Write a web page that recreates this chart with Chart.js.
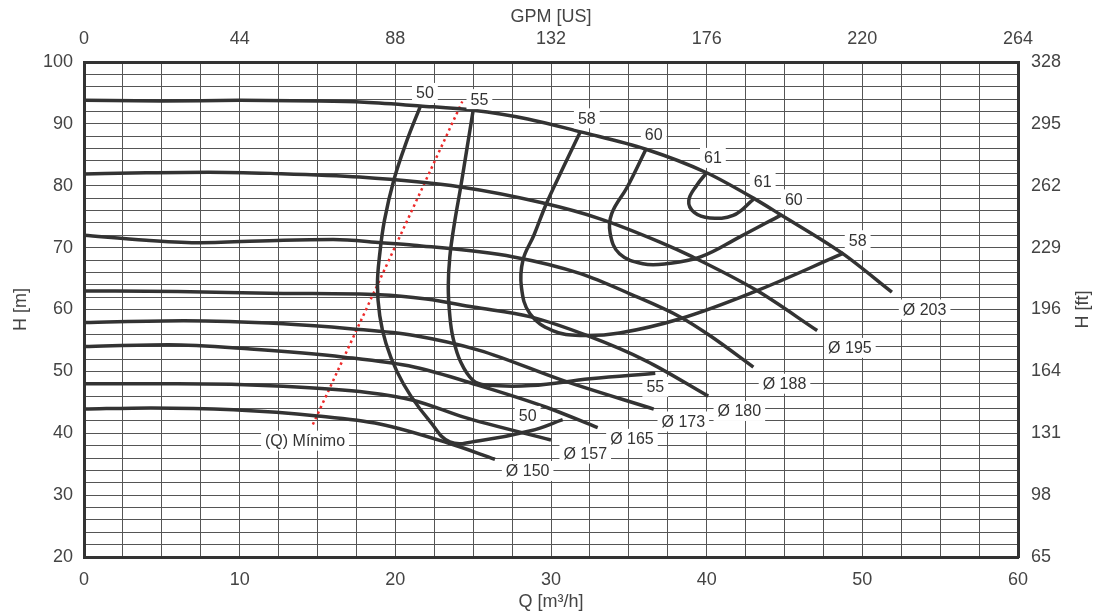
<!DOCTYPE html>
<html>
<head>
<meta charset="utf-8">
<title>Curvas de bomba</title>
<script src="https://cdn.jsdelivr.net/npm/chart.js@4.4.1/dist/chart.umd.min.js"></script>
<style>
    html, body { margin: 0; padding: 0; background: #ffffff; }
    #wrap { width: 1100px; height: 616px; }
</style>
</head>
<body>
<div id="wrap"><canvas id="pumpChart" width="1100" height="616"></canvas></div>
<script>
// tick labels
const qTicks = [0, 10, 20, 30, 40, 50, 60];
const hTicks = [20, 30, 40, 50, 60, 70, 80, 90, 100];
const gpmTicks = [0, 44, 88, 132, 176, 220, 264];
const ftTicks = [65, 98, 131, 164, 196, 229, 262, 295, 328];

// impeller diameter curves, [Q m3/h, H m]
const dia203 = [[0, 93.8], [5, 93.7], [10, 93.8], [15, 93.7], [18, 93.5], [21.6, 92.9], [25, 92.2], [28.5, 90.8], [31.9, 88.7], [36.1, 85.9], [40, 82.1], [43, 78], [44.7, 75.4], [48.7, 69.1], [51.9, 62.8]];
const dia195 = [[0, 81.9], [4, 82.1], [8, 82.2], [12, 82.0], [17.7, 81.4], [24.2, 79.8], [29.5, 77.2], [33.1, 74.7], [37, 70.9], [39.1, 68.5], [43.2, 63.1], [47.1, 56.6]];
const dia188 = [[0, 72.0], [4, 71.2], [7.5, 70.8], [12.8, 71.2], [16, 71.3], [19.1, 70.8], [21.2, 70.4], [27.6, 68.5], [31.9, 65.8], [35.1, 62.5], [38.3, 58.8], [40.2, 55.8], [43.0, 50.7]];
const dia180 = [[0, 63.0], [6, 62.9], [12.8, 62.6], [19, 62.4], [22, 61.7], [25, 60.4], [28.7, 58.8], [32.3, 55.8], [36.1, 51.7], [40.1, 46.0]];
const dia173 = [[0, 57.9], [6.4, 58.2], [12.8, 57.7], [17.1, 56.9], [21.2, 55.8], [25.4, 53.4], [30.8, 48.5], [36.6, 43.9]];
const dia165 = [[0, 54.0], [5.4, 54.3], [10.7, 53.6], [16.7, 52.3], [21.2, 50.7], [25.4, 47.7], [29.7, 44.2], [33.0, 40.9]];
const dia157 = [[0, 48.0], [6, 48.0], [12.8, 47.6], [18.2, 46.6], [21.2, 45.3], [24.4, 42.6], [30.0, 38.9]];
const dia150 = [[0, 43.9], [4.3, 44.1], [9.6, 43.8], [15, 42.8], [19, 41.5], [23.3, 38.5], [26.4, 35.8]];

// efficiency curves (%)
const eff50 = [[21.6, 92.8], [20.7, 87], [19.9, 80.9], [19.3, 74.4], [19.0, 69], [18.85, 64], [19.0, 59], [19.4, 54.5], [20.1, 50], [21.0, 46], [22.2, 42], [23.5, 38.6], [25.4, 38.8], [28.7, 40.4], [30.75, 42.2]];
const eff55 = [[25.0, 92.2], [24.6, 86], [24.2, 79.8], [23.8, 74], [23.5, 68.5], [23.4, 63.6], [23.5, 59], [23.7, 55.5], [24.2, 51.5], [25.0, 48.5], [25.8, 47.8], [28.7, 47.7], [32.5, 48.8], [36.7, 49.7]];
const eff58 = [[31.9, 88.8], [30.7, 82.5], [29.7, 77.1], [28.9, 72], [28.2, 68], [28.1, 63.6], [28.65, 59.3], [30.1, 56.6], [31.9, 55.8], [34.4, 56.2], [38.3, 58.5], [43.0, 62.8], [48.8, 69.1]];
const eff60 = [[36.1, 85.9], [34.9, 79.8], [33.9, 75.5], [33.8, 72.3], [34.4, 69.0], [35.9, 67.4], [37.4, 67.4], [39.6, 68.5], [42.1, 71.7], [44.8, 75.3]];
const eff61 = [[40.0, 82.1], [39.4, 80.2], [38.85, 77.6], [39.2, 75.7], [40.2, 74.8], [41.7, 75.2], [43.0, 77.8]];

// minimum flow line
const minFlow = [[14.7, 41.4], [24.3, 93.6]];

// curve labels: text, Q, H
const curveLabels = [
    ["50", 21.9, 95.0], ["55", 25.4, 94.0], ["58", 32.3, 90.9], ["60", 36.6, 88.3],
    ["61", 40.4, 84.5], ["61", 43.6, 80.7], ["60", 45.6, 77.8], ["58", 49.7, 71.2],
    ["Ø 203", 54.0, 60.0], ["Ø 195", 49.2, 53.8], ["Ø 188", 45.0, 48.0], ["Ø 180", 42.1, 43.6],
    ["55", 36.7, 47.5], ["Ø 173", 38.5, 41.9], ["Ø 165", 35.2, 39.1], ["50", 28.5, 42.8],
    ["Ø 157", 32.2, 36.7], ["Ø 150", 28.5, 33.9], ["(Q) Mínimo", 14.2, 38.8]
];

const FONT = '"Liberation Sans", Arial, sans-serif';
const INK = "#333333";

function toPoints(arr) {
    return arr.map(function (p) { return { x: p[0], y: p[1] }; });
}

// diameter curves are monotone in Q, efficiency curves loop back
function diaCurve(arr) {
    return {
        data: toPoints(arr),
        borderColor: INK,
        borderWidth: 3.5,
        pointRadius: 0,
        cubicInterpolationMode: "monotone",
        fill: false
    };
}

function effCurve(arr) {
    return {
        data: toPoints(arr),
        borderColor: INK,
        borderWidth: 3.5,
        pointRadius: 0,
        tension: 0.4,
        fill: false
    };
}

const labelPlugin = {
    id: "curveLabels",
    afterDatasetsDraw: function (chart) {
        const ctx = chart.ctx;
        const xs = chart.scales.x;
        const ys = chart.scales.y;
        ctx.save();
        ctx.font = "16px " + FONT;
        ctx.textAlign = "center";
        ctx.textBaseline = "middle";
        curveLabels.forEach(function (l) {
            const px = xs.getPixelForValue(l[1]);
            const py = ys.getPixelForValue(l[2]);
            const w = ctx.measureText(l[0]).width + 8;
            ctx.fillStyle = "#ffffff";
            ctx.fillRect(px - w / 2, py - 10, w, 20);
            ctx.fillStyle = INK;
            ctx.fillText(l[0], px, py + 1);
        });
        ctx.restore();
    },
    afterDraw: function (chart) {
        // right axis title reads bottom-to-top like the left one
        const ctx = chart.ctx;
        const area = chart.chartArea;
        ctx.save();
        ctx.font = "18px " + FONT;
        ctx.fillStyle = "#444444";
        ctx.textAlign = "center";
        ctx.textBaseline = "middle";
        ctx.translate(1083, (area.top + area.bottom) / 2);
        ctx.rotate(-Math.PI / 2);
        ctx.fillText("H [ft]", 0, 0);
        ctx.restore();
    }
};

const gridColor = "#555555";
const borderStyle = { display: true, width: 3, color: INK };
const tickFont = { family: FONT, size: 18 };

document.addEventListener("DOMContentLoaded", function () {
    const canvas = document.getElementById("pumpChart");
    if (!canvas || !window.Chart) {
        return;
    }
    const minDs = {
        data: toPoints(minFlow),
        borderColor: "#ee2a2a",
        borderWidth: 2.5,
        borderDash: [2.5, 3.5],
        pointRadius: 0,
        tension: 0,
        fill: false
    };

    new Chart(canvas.getContext("2d"), {
        type: "line",
        data: {
            datasets: [
                diaCurve(dia203), diaCurve(dia195), diaCurve(dia188), diaCurve(dia180),
                diaCurve(dia173), diaCurve(dia165), diaCurve(dia157), diaCurve(dia150),
                effCurve(eff50), effCurve(eff55), effCurve(eff58), effCurve(eff60), effCurve(eff61),
                minDs
            ]
        },
        options: {
            responsive: false,
            animation: false,
            layout: { padding: 0 },
            plugins: {
                legend: { display: false },
                tooltip: { enabled: false }
            },
            scales: {
                x: {
                    type: "linear",
                    position: "bottom",
                    min: 0,
                    max: 60,
                    afterFit: function (s) { s.height = 59; },
                    grid: { color: gridColor, lineWidth: 1, drawTicks: false },
                    border: borderStyle,
                    ticks: {
                        stepSize: 2.5,
                        autoSkip: false,
                        maxRotation: 0,
                        padding: 12,
                        color: "#444444",
                        font: tickFont,
                        callback: function (v) { return qTicks.indexOf(v) >= 0 ? String(v) : ""; }
                    },
                    title: {
                        display: true,
                        text: "Q [m³/h]",
                        color: "#444444",
                        font: tickFont,
                        padding: { top: 0, bottom: 3 }
                    }
                },
                xGpm: {
                    type: "linear",
                    position: "top",
                    min: 0,
                    max: 60,
                    afterFit: function (s) { s.height = 62; },
                    grid: { display: false, drawTicks: false },
                    border: borderStyle,
                    ticks: {
                        stepSize: 10,
                        autoSkip: false,
                        maxRotation: 0,
                        padding: 12,
                        color: "#444444",
                        font: tickFont,
                        callback: function (v, i) { return String(gpmTicks[i]); }
                    },
                    title: {
                        display: true,
                        text: "GPM [US]",
                        color: "#444444",
                        font: tickFont,
                        padding: { top: 6, bottom: 0 }
                    }
                },
                y: {
                    type: "linear",
                    position: "left",
                    min: 20,
                    max: 100,
                    afterFit: function (s) { s.width = 84; },
                    grid: { color: gridColor, lineWidth: 1, drawTicks: false },
                    border: borderStyle,
                    ticks: {
                        stepSize: 2,
                        autoSkip: false,
                        padding: 11,
                        color: "#444444",
                        font: tickFont,
                        callback: function (v) { return hTicks.indexOf(v) >= 0 ? String(v) : ""; }
                    },
                    title: {
                        display: true,
                        text: "H [m]",
                        color: "#444444",
                        font: tickFont,
                        padding: { top: 10, bottom: 0 }
                    }
                },
                yFt: {
                    type: "linear",
                    position: "right",
                    min: 20,
                    max: 100,
                    afterFit: function (s) { s.width = 82; },
                    grid: { display: false, drawTicks: false },
                    border: borderStyle,
                    ticks: {
                        stepSize: 10,
                        autoSkip: false,
                        padding: 13,
                        color: "#444444",
                        font: tickFont,
                        callback: function (v, i) { return String(ftTicks[i]); }
                    }
                }
            }
        },
        plugins: [labelPlugin]
    });
});
</script>
</body>
</html>
